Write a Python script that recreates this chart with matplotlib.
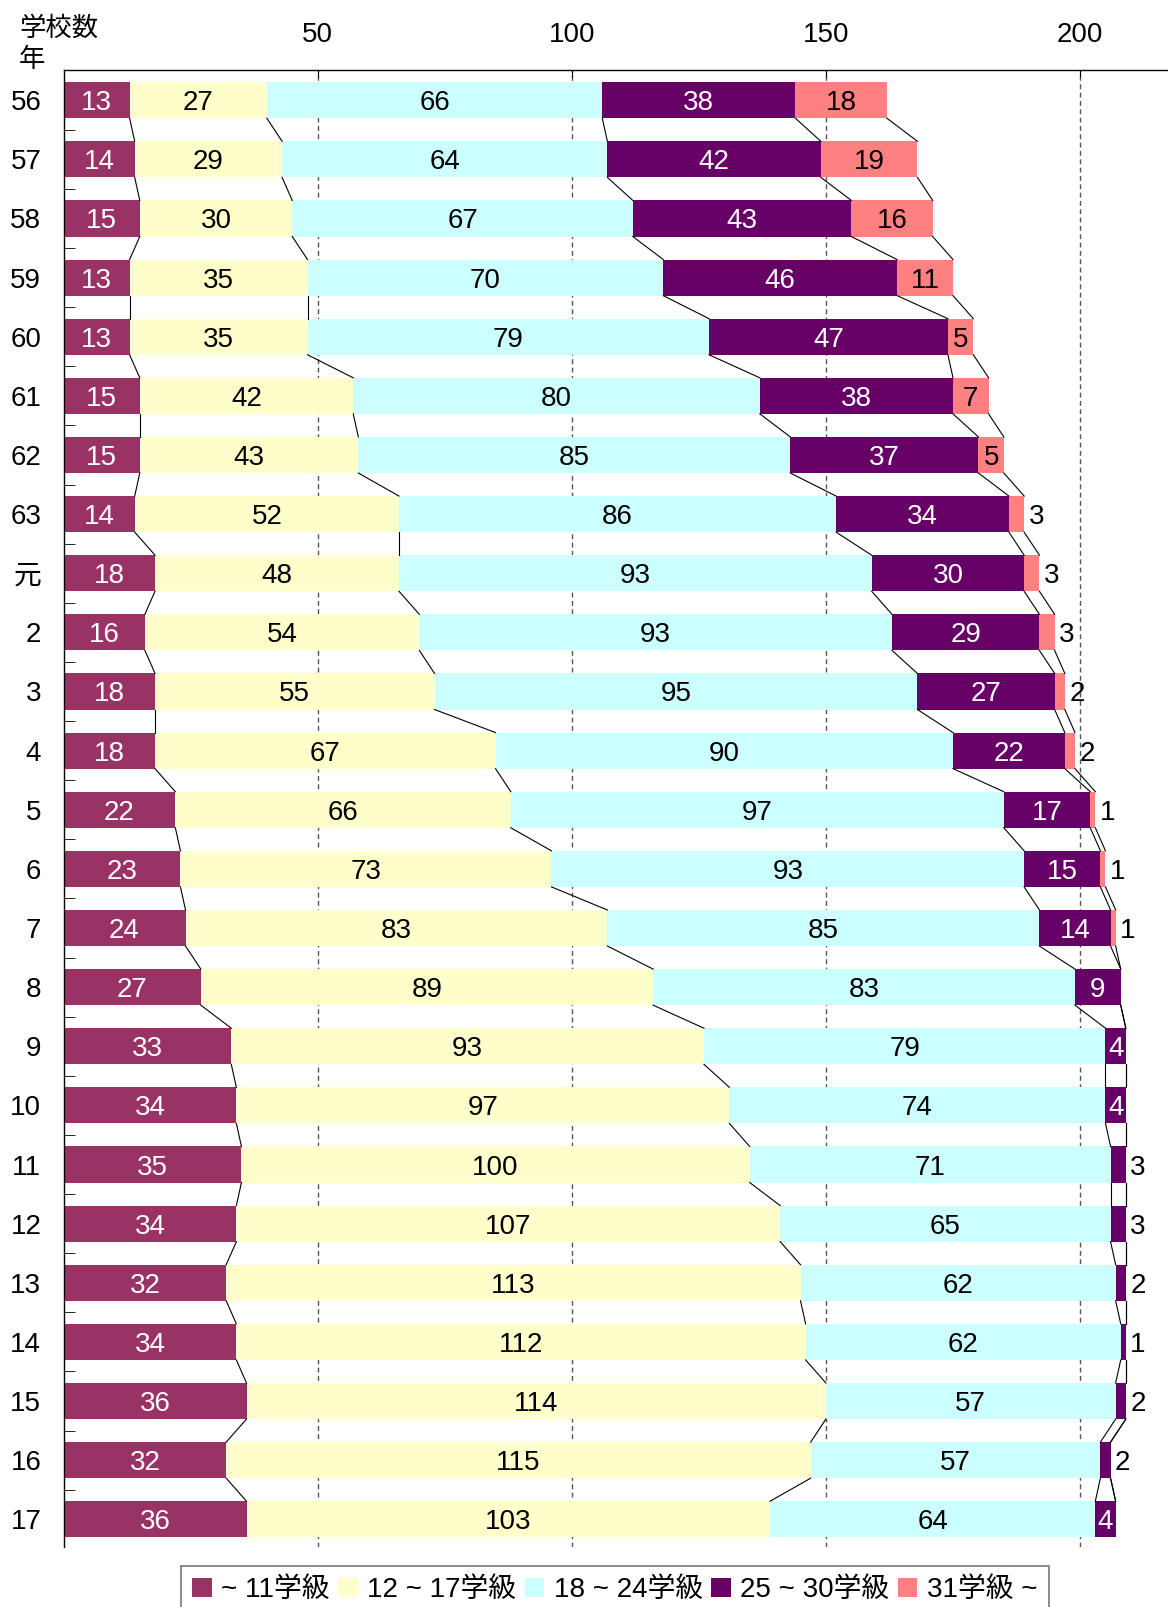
import numpy as np
import matplotlib
matplotlib.use('Agg')
import matplotlib.pyplot as plt
from matplotlib.patches import Patch

plt.rcParams['font.family'] = ['Liberation Sans Narrow', 'Liberation Sans', 'Noto Sans CJK JP']

# ---- data ----
years = ['56', '57', '58', '59', '60', '61', '62', '63', '元', '2', '3', '4', '5',
         '6', '7', '8', '9', '10', '11', '12', '13', '14', '15', '16', '17']
cls_11 = [13, 14, 15, 13, 13, 15, 15, 14, 18, 16, 18, 18, 22, 23, 24, 27, 33, 34, 35, 34, 32, 34, 36, 32, 36]
cls_12_17 = [27, 29, 30, 35, 35, 42, 43, 52, 48, 54, 55, 67, 66, 73, 83, 89, 93, 97, 100, 107, 113, 112, 114, 115, 103]
cls_18_24 = [66, 64, 67, 70, 79, 80, 85, 86, 93, 93, 95, 90, 97, 93, 85, 83, 79, 74, 71, 65, 62, 62, 57, 57, 64]
cls_25_30 = [38, 42, 43, 46, 47, 38, 37, 34, 30, 29, 27, 22, 17, 15, 14, 9, 4, 4, 3, 3, 2, 1, 2, 2, 4]
cls_31 = [18, 19, 16, 11, 5, 7, 5, 3, 3, 3, 2, 2, 1, 1, 1, 0, 0, 0, 0, 0, 0, 0, 0, 0, 0]

series_names = ['~ 11学級', '12 ~ 17学級', '18 ~ 24学級', '25 ~ 30学級', '31学級 ~']
colors = ['#993366', '#FFFFCC', '#CCFFFF', '#660066', '#FF8080']
text_colors = ['white', 'black', 'black', 'white', 'black']

series = np.array([cls_11, cls_12_17, cls_18_24, cls_25_30, cls_31], dtype=float)
cum = np.cumsum(series, axis=0)
n = len(years)
ypos = np.arange(n)
bar_h = 0.61
FS = 20

fig = plt.figure(figsize=(11.68, 16.07), dpi=100)
ax = fig.add_axes([0.0544, 0.0373, 0.9456, 0.9191])

for k in range(5):
    left = cum[k] - series[k]
    ax.barh(ypos, series[k], left=left, height=bar_h, color=colors[k],
            edgecolor='none', zorder=2)
    for i in range(n):
        v = series[k][i]
        if v == 0:
            continue
        small = (k == 3 and v < 4) or (k == 4 and v < 5)
        if small:
            ax.text(cum[4][i] + 2.4, ypos[i], f'{int(v)}', ha='center', va='center_baseline',
                    fontsize=FS, color='black', zorder=4)
        else:
            ax.text(left[i] + v / 2, ypos[i], f'{int(v)}', ha='center', va='center_baseline',
                    fontsize=FS, color=text_colors[k], zorder=4)

# connector lines between consecutive bars
for i in range(n - 1):
    for k in range(5):
        ax.plot([cum[k][i], cum[k][i + 1]],
                [ypos[i] + bar_h / 2, ypos[i + 1] - bar_h / 2],
                color='black', lw=0.8, zorder=3)

ax.set_xlim(0, 217.3)
ax.set_ylim(n - 1 + 0.47, -0.51)

ax.xaxis.tick_top()
ax.set_xticks([50, 100, 150, 200])
ax.tick_params(axis='x', direction='in', length=5, labelsize=FS, pad=16)
ax.grid(axis='x', color='#555555', linestyle=(0, (3.5, 2.5)), lw=1.0, zorder=1)

ax.set_yticks(ypos)
ax.set_yticklabels(years)
ax.set_yticks(np.arange(n - 1) + 0.5, minor=True)
ax.tick_params(axis='y', which='major', length=0, labelsize=FS, pad=16)
ax.tick_params(axis='y', which='minor', direction='in', length=8)

for s in ['right', 'bottom']:
    ax.spines[s].set_visible(False)
ax.spines['top'].set_linewidth(1.0)
ax.spines['left'].set_linewidth(1.0)

fig.text(19 / 1168, 1 - 28 / 1607, '学校数', fontsize=19, ha='left', va='center')
fig.text(19 / 1168, 1 - 60 / 1607, '年', fontsize=19, ha='left', va='center')

handles = [Patch(facecolor=c, edgecolor='none') for c in colors]
leg = fig.legend(handles, series_names, loc='upper left',
                 bbox_to_anchor=(181 / 1168, 1 - 1566 / 1607), ncol=5,
                 fontsize=FS, frameon=True, fancybox=False, edgecolor='#555555',
                 handlelength=0.7, handleheight=0.7, handletextpad=0.35,
                 columnspacing=0.3, borderpad=0.4, borderaxespad=0)
leg.get_frame().set_linewidth(1.2)

fig.savefig('out.png', dpi=100)
